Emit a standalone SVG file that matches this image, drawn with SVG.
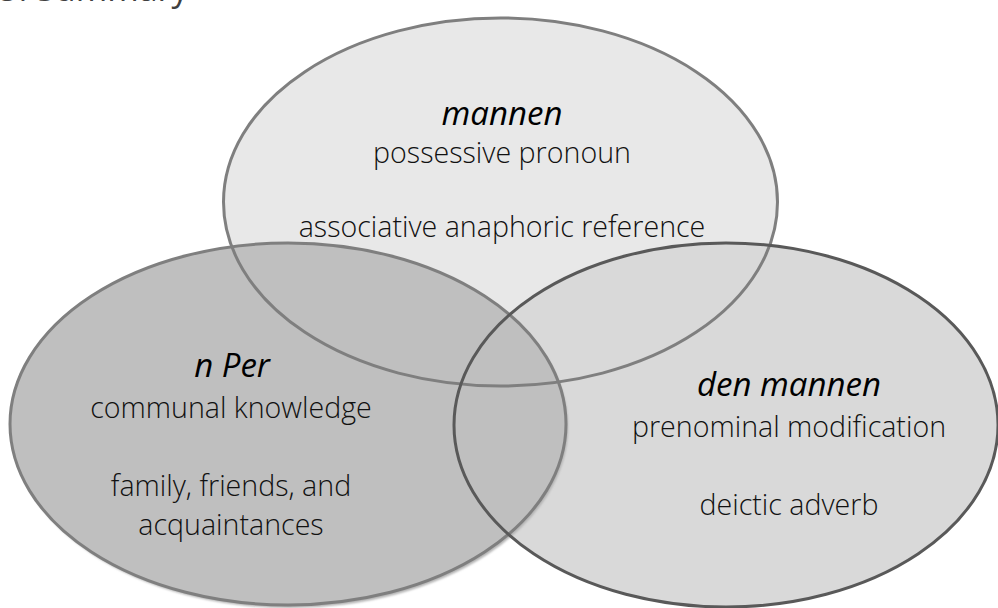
<svg xmlns="http://www.w3.org/2000/svg" width="998" height="608" viewBox="0 0 998 608">
  <defs>
    <style>
      .txt { font-family: "Open Sans", "Liberation Sans", sans-serif; font-size: 28.6px; font-weight: 300; fill: #111; text-anchor: middle; }
      .head { font-size: 33px; font-style: italic; font-weight: 400; fill: #000; }
      .title { font-family: "Open Sans", "Liberation Sans", sans-serif; font-size: 34px; fill: #404040; }
      .outline { fill: none; stroke-width: 3; }
    </style>
    <filter id="soft" x="-5%" y="-5%" width="110%" height="110%">
      <feGaussianBlur stdDeviation="1.2"/>
    </filter>
    <ellipse id="shape-top" cx="500.5" cy="202" rx="277" ry="184"/>
    <ellipse id="shape-left" cx="288" cy="424" rx="278" ry="181"/>
    <ellipse id="shape-right" cx="726" cy="425" rx="272" ry="182"/>
  </defs>

  <rect width="998" height="608" fill="#ffffff"/>

  <!-- section heading, mostly above the top edge -->
  <text class="title" x="-1" y="1">5. Summary</text>

  <g id="node-mannen">
    <use href="#shape-top" fill="#e8e8e8"/>
    <text class="txt head" x="502" y="125">mannen</text>
    <text class="txt" x="502" y="163">possessive pronoun</text>
    <text class="txt" x="502" y="237">associative anaphoric reference</text>
  </g>

  <g id="node-den-mannen">
    <use href="#shape-right" fill="#d9d9d9"/>
    <text class="txt head" x="789" y="396">den mannen</text>
    <text class="txt" x="789" y="437">prenominal modification</text>
    <text class="txt" x="789" y="515">deictic adverb</text>
  </g>

  <g id="node-n-per">
    <use href="#shape-left" x="2" y="3" fill="#b2b2b2" filter="url(#soft)"/>
    <use href="#shape-left" fill="#bfbfbf"/>
    <text class="txt head" x="232" y="377">n Per</text>
    <text class="txt" x="231" y="418">communal knowledge</text>
    <text class="txt" x="231" y="496">family, friends, and</text>
    <text class="txt" x="231" y="535">acquaintances</text>
  </g>

  <!-- circle outlines drawn over all fills so every boundary stays visible -->
  <g id="outlines">
    <use href="#shape-top" class="outline" stroke="#7f7f7f"/>
    <use href="#shape-left" class="outline" stroke="#7f7f7f"/>
    <use href="#shape-right" class="outline" stroke="#595959"/>
  </g>
</svg>
